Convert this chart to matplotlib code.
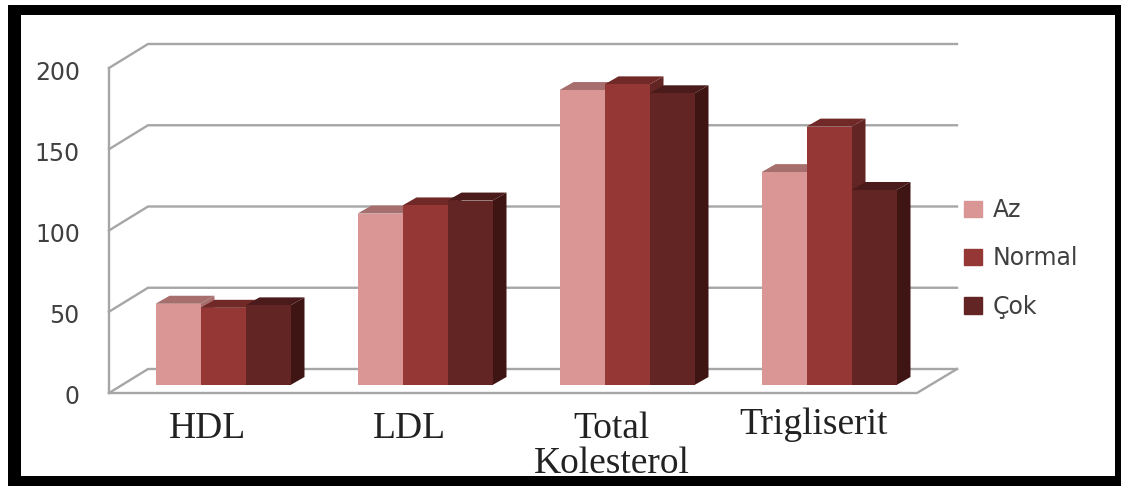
import matplotlib
matplotlib.use('Agg')
import matplotlib.pyplot as plt
from matplotlib.patches import Patch, Polygon, Rectangle
from matplotlib.transforms import ScaledTranslation

categories = ['HDL', 'LDL', 'Total\nKolesterol', 'Trigliserit']
series_names = ['Az', 'Normal', 'Çok']
az = [50, 105.5, 181.5, 131]
normal = [47.5, 110.5, 185, 159]
cok = [49, 113.5, 179.5, 120]
y_ticks = [0, 50, 100, 150, 200]

front_colors = ['#D99694', '#953735', '#632523']
top_colors = ['#A66F6D', '#702927', '#4A1B1A']
side_colors = ['#A66F6D', '#632523', '#3F1513']
grid_color = '#A6A6A6'
text_color = '#404040'

W, H = 1121, 491
fig = plt.figure(figsize=(W / 100, H / 100), dpi=100)


# pixel box (top-left origin) to figure fractions
def box(x0, y0, x1, y1):
    return [x0 / W, 1 - y1 / H, (x1 - x0) / W, (y1 - y0) / H]


# black frame, kept behind the axes
b = box(8, 5, 1121, 486)
fig.add_artist(Rectangle((b[0], b[1]), b[2], b[3], transform=fig.transFigure, fc='black', ec='none', zorder=-2))
b = box(21, 15, 1115, 476)
fig.add_artist(Rectangle((b[0], b[1]), b[2], b[3], transform=fig.transFigure, fc='white', ec='none', zorder=-1))

# front plane of the chart box: 202 px per group, 1.625 px per unit
ax = fig.add_axes(box(109, 68, 917, 393))
ax.patch.set_alpha(0)
ax.set_xlim(0, 4)
ax.set_ylim(0, 200)
for s in ax.spines.values():
    s.set_visible(False)

wall_dx = 39 / 202
wall_dy = 24 / 1.625
back_right = 4 + 40 / 202

# walls and floor
for t in y_ticks:
    ax.plot([0, wall_dx, back_right], [t, t + wall_dy, t + wall_dy], color=grid_color, lw=1.7,
            clip_on=False, zorder=1, solid_joinstyle='miter')
ax.plot([0, 0], [0, 200], color=grid_color, lw=1.7, clip_on=False, zorder=1)
ax.plot([0, 4, back_right], [0, 0, wall_dy], color=grid_color, lw=1.7, clip_on=False, zorder=1)

# bars
bar_w = 45 / 202
group_shift = 13 / 202
base = 8 / 1.625
depth_x = 14 / 202
depth_y = 8 / 1.625

z = 2
for i in range(len(categories)):
    for j, values in enumerate([az, normal, cok]):
        x0 = i + 0.5 + group_shift + (j - 1.5) * bar_w
        x1 = x0 + bar_w
        top = base + values[i]
        ax.add_patch(Polygon([(x0, top), (x1, top), (x1 + depth_x, top + depth_y), (x0 + depth_x, top + depth_y)],
                             fc=top_colors[j], ec='none', clip_on=False, zorder=z))
        ax.add_patch(Polygon([(x1, base), (x1 + depth_x, base + depth_y), (x1 + depth_x, top + depth_y), (x1, top)],
                             fc=side_colors[j], ec='none', clip_on=False, zorder=z))
        ax.bar(x0, values[i], width=bar_w, bottom=base, align='edge', color=front_colors[j],
               clip_on=False, zorder=z + 1)
        z += 2

# ticks
ax.set_yticks(y_ticks)
ax.set_yticklabels([str(t) for t in y_ticks], fontsize=17, color=text_color, family='DejaVu Sans')
ax.tick_params(axis='y', length=0, pad=21)
for lab in ax.get_yticklabels():
    lab.set_transform(lab.get_transform() + ScaledTranslation(0, -0.02, fig.dpi_scale_trans))
ax.set_xticks([i + 0.487 for i in range(len(categories))])
ax.set_xticklabels(categories, fontsize=27, family='Liberation Serif', color='#222222', linespacing=1.05)
ax.tick_params(axis='x', length=0, pad=13)
lab = ax.get_xticklabels()[3]
lab.set_transform(lab.get_transform() + ScaledTranslation(0, 0.04, fig.dpi_scale_trans))

# legend
handles = [Patch(color=c, label=n) for c, n in zip(front_colors, series_names)]
fig.legend(handles=handles, loc='upper left', bbox_to_anchor=(957 / W, 1 - 191 / H), frameon=False,
           prop={'family': 'DejaVu Sans', 'size': 17}, labelcolor=text_color, handlelength=0.75,
           handleheight=0.7, handletextpad=0.45, labelspacing=1.03, borderpad=0.3, borderaxespad=0)

fig.savefig('out.png', dpi=100)
